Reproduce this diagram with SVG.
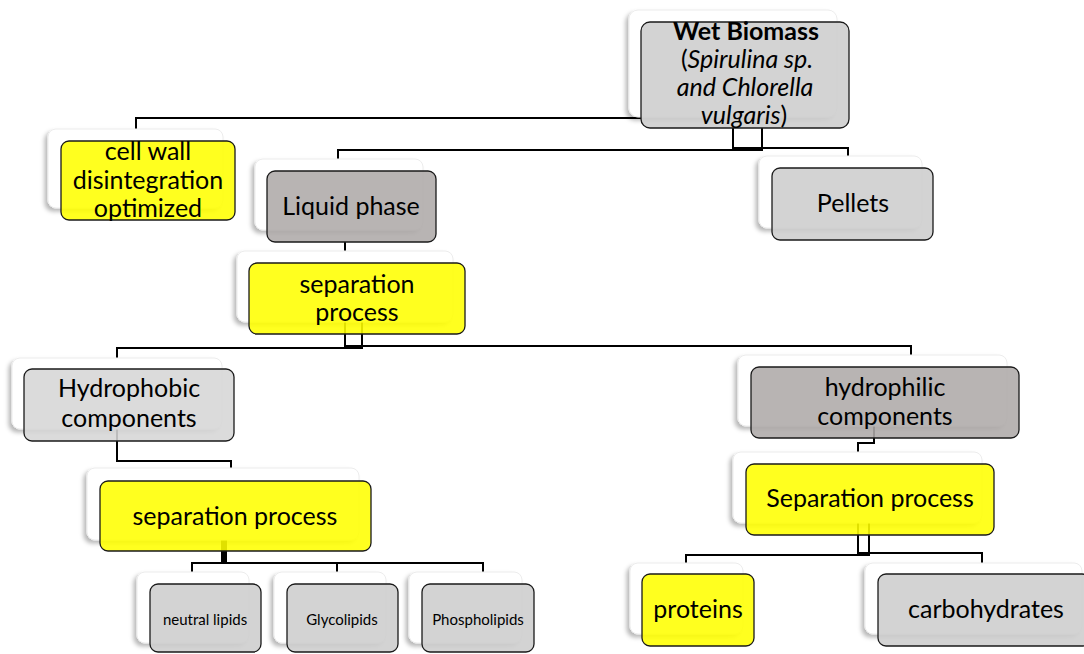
<svg xmlns="http://www.w3.org/2000/svg" width="1084" height="654" viewBox="0 0 1084 654">
<defs>
<filter id="sh" x="-10%" y="-10%" width="120%" height="130%">
<feDropShadow dx="-3" dy="3" stdDeviation="2" flood-color="#000" flood-opacity="0.28"/>
</filter>
</defs>
<style>
.back{fill:#ffffff;stroke:#ececec;stroke-width:1;filter:url(#sh)}
.front{stroke:#1a1a1a;stroke-width:1.3;fill-opacity:0.88}
.y{fill:#ffff00}
.g{fill:#cdcdcd}
.d{fill:#aeaaa9}
.l{fill:#d6d6d6}
text{font-family:Lato,"Liberation Sans",sans-serif;fill:#000;text-anchor:middle}
.t{font-size:25px}
.s{font-size:15px}
.w{font-size:25px}
.conn path{fill:none;stroke:#000;stroke-width:2}
</style>
<g class="conn" id="connectors">
<path d="M136,129 V118 H642"/>
<path d="M762,128 V150 H338 V159"/>
<path d="M733,128 V148 H848 V156"/>
<path d="M345,242 V251"/>
<path d="M362,322 V348 H117 V358"/>
<path d="M345,322 V346 H911 V355"/>
<path d="M117,429 V461 H231 V468"/>
<path d="M874,426 V443 H858 V452"/>
<path d="M226,540 V563 H192 V572"/>
<path d="M224,540 V563 H337 V572"/>
<path d="M222,540 V563 H483 V572"/>
<path d="M869,523 V555 H686 V563"/>
<path d="M858,523 V553 H982 V563"/>
</g>
<g id="wet-biomass">
<rect class="back" x="629" y="10" width="208" height="107" rx="9"/>
<rect class="front g" x="641" y="22" width="208" height="106" rx="9"/>
<text class="w" x="746" y="40" font-weight="bold">Wet Biomass</text>
<text class="w" x="747" y="68">(<tspan font-style="italic">Spirulina sp.</tspan></text>
<text class="w" x="745" y="96" font-style="italic">and Chlorella</text>
<text class="w" x="744" y="124"><tspan font-style="italic">vulgaris</tspan>)</text>
</g>
<g id="cell-wall">
<rect class="back" x="48" y="129" width="175" height="79" rx="8"/>
<rect class="front y" x="61" y="141" width="174" height="79" rx="8"/>
<text class="t" x="148" y="160">cell wall</text>
<text class="t" x="148" y="189">disintegration</text>
<text class="t" x="148" y="217">optimized</text>
</g>
<g id="liquid-phase">
<rect class="back" x="255" y="159" width="168" height="71" rx="8"/>
<rect class="front d" x="267" y="171" width="169" height="71" rx="8"/>
<text class="t" x="351" y="215">Liquid phase</text>
</g>
<g id="pellets">
<rect class="back" x="759" y="156" width="163" height="72" rx="8"/>
<rect class="front g" x="772" y="168" width="161" height="72" rx="8"/>
<text class="t" x="853" y="212">Pellets</text>
</g>
<g id="separation-1">
<rect class="back" x="237" y="251" width="216" height="71" rx="8"/>
<rect class="front y" x="249" y="263" width="216" height="71" rx="8"/>
<text class="t" x="357" y="293">separation</text>
<text class="t" x="357" y="321">process</text>
</g>
<g id="hydrophobic">
<rect class="back" x="12" y="358" width="210" height="71" rx="8"/>
<rect class="front l" x="24" y="369" width="210" height="72" rx="8"/>
<text class="t" x="129" y="397">Hydrophobic</text>
<text class="t" x="129" y="427">components</text>
</g>
<g id="hydrophilic">
<rect class="back" x="738" y="355" width="269" height="71" rx="8"/>
<rect class="front d" x="751" y="367" width="268" height="71" rx="8"/>
<text class="t" x="885" y="396">hydrophilic</text>
<text class="t" x="885" y="425">components</text>
</g>
<g id="separation-2">
<rect class="back" x="87" y="468" width="272" height="72" rx="8"/>
<rect class="front y" x="100" y="481" width="271" height="70" rx="8"/>
<text class="t" x="235" y="525">separation process</text>
</g>
<g id="separation-3">
<rect class="back" x="733" y="452" width="249" height="71" rx="8"/>
<rect class="front y" x="746" y="464" width="248" height="71" rx="8"/>
<text class="t" x="870" y="507">Separation process</text>
</g>
<g id="neutral-lipids">
<rect class="back" x="137" y="572" width="112" height="71" rx="8"/>
<rect class="front g" x="150" y="584" width="111" height="68" rx="8"/>
<text class="s" x="205" y="625">neutral lipids</text>
</g>
<g id="glycolipids">
<rect class="back" x="274" y="572" width="112" height="71" rx="8"/>
<rect class="front g" x="287" y="584" width="111" height="68" rx="8"/>
<text class="s" x="342" y="625">Glycolipids</text>
</g>
<g id="phospholipids">
<rect class="back" x="409" y="572" width="113" height="71" rx="8"/>
<rect class="front g" x="422" y="584" width="112" height="68" rx="8"/>
<text class="s" x="478" y="625">Phospholipids</text>
</g>
<g id="proteins">
<rect class="back" x="630" y="563" width="113" height="71" rx="8"/>
<rect class="front y" x="642" y="574" width="112" height="72" rx="8"/>
<text class="t" x="698" y="618">proteins</text>
</g>
<g id="carbohydrates">
<rect class="back" x="865" y="563" width="217" height="71" rx="8"/>
<rect class="front g" x="878" y="574" width="212" height="72" rx="8"/>
<text class="t" x="986" y="618">carbohydrates</text>
</g>
</svg>
